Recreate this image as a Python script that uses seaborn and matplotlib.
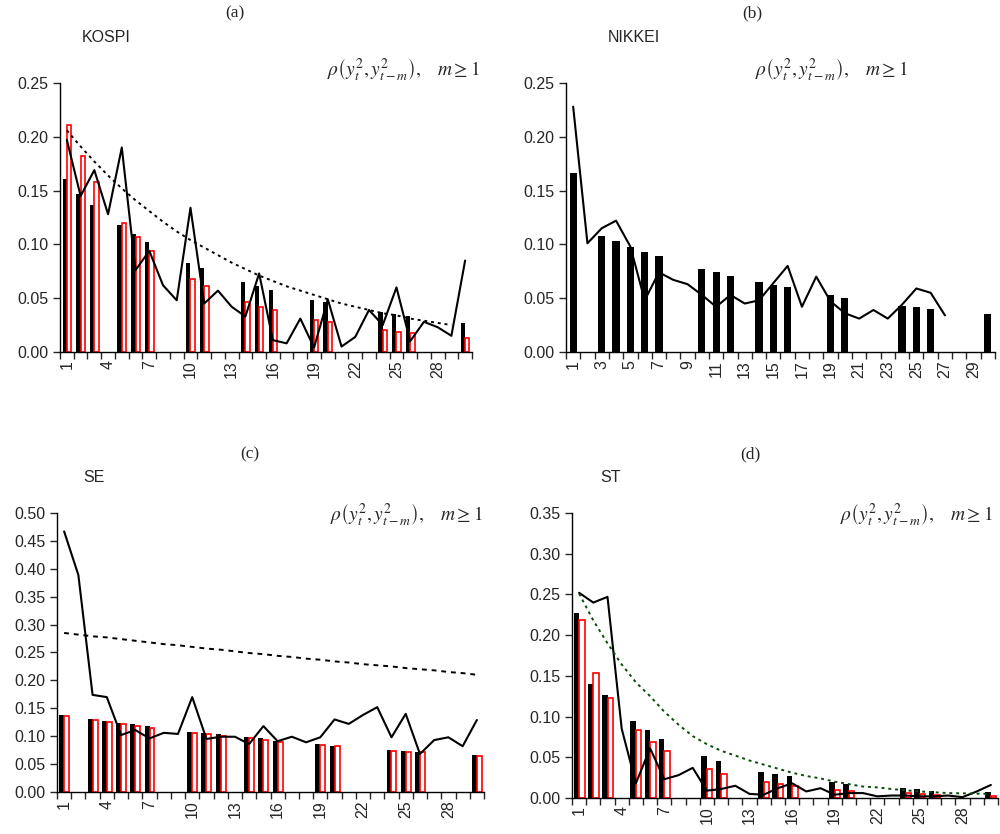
import numpy as np
import pandas as pd
import seaborn as sns
import matplotlib.pyplot as plt

nan = np.nan
lags = list(range(1, 31))

# (a) KOSPI
kospi_black = [0.161, 0.147, 0.137, nan, 0.118, 0.110, 0.102, nan, nan, 0.083,
               0.078, nan, nan, 0.065, 0.061, 0.058, nan, nan, 0.048, 0.046,
               nan, nan, nan, 0.037, 0.035, 0.033, nan, nan, nan, 0.027]
kospi_red = [0.211, 0.182, 0.158, nan, 0.120, 0.107, 0.094, nan, nan, 0.068,
             0.061, nan, nan, 0.046, 0.042, 0.039, nan, nan, 0.030, 0.028,
             nan, nan, nan, 0.020, 0.019, 0.018, nan, nan, nan, 0.013]
kospi_line = [0.197, 0.145, 0.169, 0.128, 0.190, 0.076, 0.094, 0.062, 0.048, 0.134,
              0.045, 0.057, 0.042, 0.033, 0.073, 0.011, 0.008, 0.031, 0.004, 0.049,
              0.005, 0.014, 0.039, 0.025, 0.060, 0.010, 0.028, 0.023, 0.015, 0.085]
kospi_dot = [0.206, 0.191, 0.177, 0.164, 0.152, 0.141, 0.131, 0.121, 0.112, 0.104,
             0.097, 0.090, 0.083, 0.077, 0.071, 0.066, 0.061, 0.057, 0.053, 0.049,
             0.045, 0.042, 0.039, 0.036, 0.034, 0.031, 0.029, 0.027, 0.025]

# (b) NIKKEI
nikkei_black = [0.166, nan, 0.108, 0.103, 0.098, 0.093, 0.089, nan, nan, 0.077,
                0.074, 0.071, nan, 0.065, 0.062, 0.060, nan, nan, 0.053, 0.050,
                nan, nan, nan, 0.043, 0.042, 0.040, nan, nan, nan, 0.035]
nikkei_line = [0.228, 0.101, 0.115, 0.122, 0.098, 0.048, 0.074, 0.067, 0.063, 0.053,
               0.042, 0.053, 0.045, 0.048, 0.064, 0.080, 0.042, 0.070, 0.047, 0.036,
               0.031, 0.039, 0.031, 0.044, 0.059, 0.055, 0.034]

# (c) SE
se_black = [0.138, nan, 0.131, 0.128, 0.123, 0.121, 0.118, nan, nan, 0.108,
            0.105, 0.103, nan, 0.098, 0.096, 0.092, nan, nan, 0.086, 0.083,
            nan, nan, nan, 0.076, 0.074, 0.072, nan, nan, nan, 0.066]
se_red = [0.137, nan, 0.129, 0.125, 0.121, 0.118, 0.115, nan, nan, 0.106,
          0.104, 0.101, nan, 0.096, 0.093, 0.090, nan, nan, 0.084, 0.082,
          nan, nan, nan, 0.074, 0.072, 0.071, nan, nan, nan, 0.064]
se_line = [0.467, 0.389, 0.174, 0.170, 0.102, 0.111, 0.096, 0.106, 0.104, 0.170,
           0.095, 0.099, 0.099, 0.086, 0.118, 0.091, 0.099, 0.089, 0.098, 0.130,
           0.122, 0.138, 0.152, 0.098, 0.140, 0.068, 0.093, 0.098, 0.082, 0.129]
se_dot = [0.285, 0.282, 0.279, 0.277, 0.274, 0.271, 0.268, 0.265, 0.263, 0.260,
          0.257, 0.255, 0.252, 0.249, 0.247, 0.244, 0.242, 0.239, 0.237, 0.234,
          0.232, 0.229, 0.227, 0.225, 0.222, 0.220, 0.218, 0.215, 0.213, 0.210]

# (d) ST
st_black = [0.227, 0.140, 0.127, nan, 0.095, 0.083, 0.073, nan, nan, 0.051,
            0.045, nan, nan, 0.032, 0.030, 0.027, nan, nan, 0.020, 0.017,
            nan, nan, nan, 0.012, 0.011, 0.009, nan, nan, nan, 0.007]
st_red = [0.219, 0.153, 0.123, nan, 0.083, 0.069, 0.058, nan, nan, 0.035,
          0.030, nan, nan, 0.020, 0.017, 0.015, nan, nan, 0.010, 0.009,
          nan, nan, nan, 0.006, 0.005, 0.004, nan, nan, nan, 0.003]
st_line = [0.252, 0.240, 0.247, 0.085, 0.018, 0.061, 0.023, 0.028, 0.037, 0.009,
           0.011, 0.015, 0.005, 0.004, 0.012, 0.018, 0.008, 0.012, 0.004, 0.006,
           0.006, 0.002, 0.003, 0.003, 0.002, 0.002, 0.003, 0.001, 0.008, 0.016]
st_dot = [0.251, 0.218, 0.190, 0.164, 0.142, 0.125, 0.106, 0.090, 0.076, 0.066,
          0.058, 0.052, 0.046, 0.041, 0.036, 0.031, 0.027, 0.024, 0.020, 0.017,
          0.014, 0.013, 0.011, 0.0094, 0.008, 0.007, 0.006, 0.0057, 0.0053, 0.005]

sns.set_style('ticks')
plt.rcParams['font.family'] = ['Liberation Sans', 'DejaVu Sans']
plt.rcParams['mathtext.fontset'] = 'stix'

fig = plt.figure(figsize=(10, 8.34), dpi=100)
formula = r'$\rho\left(y_t^2, y_{t-m}^2\right),\quad m \geq 1$'


def panel(rect, black, red, line, dot, dot_color, dot_ls, ymax, step, width):
    ax = fig.add_axes(rect)
    if red is None:
        df = pd.DataFrame({'lag': lags, 'value': black}).dropna()
        sns.barplot(data=df, x='lag', y='value', order=lags, color='black',
                    saturation=1, width=width, errorbar=None, ax=ax)
        for p in ax.patches:
            p.set_linewidth(0)
    else:
        df = pd.DataFrame({'lag': lags * 2, 'value': black + red,
                           'series': ['b'] * 30 + ['r'] * 30}).dropna()
        sns.barplot(data=df, x='lag', y='value', hue='series', order=lags,
                    hue_order=['b', 'r'], palette={'b': 'black', 'r': 'white'},
                    saturation=1, width=width, gap=0, dodge=True,
                    errorbar=None, legend=False, ax=ax)
        for p in ax.containers[0]:
            p.set_linewidth(0)
        for p in ax.containers[1]:
            p.set_edgecolor('red')
            p.set_linewidth(1.2)
    sns.lineplot(x=np.arange(len(line)), y=line, color='black', lw=1.5, ax=ax)
    if dot is not None:
        sns.lineplot(x=np.arange(len(dot)), y=dot, color=dot_color, lw=1.4,
                     ax=ax).lines[-1].set_linestyle(dot_ls)
    ax.set_xlim(-0.5, 29.5)
    ax.set_ylim(0, ymax)
    ax.set_yticks(np.arange(0, ymax + 0.001, 0.05))
    ax.set_yticklabels(['%.2f' % v for v in np.arange(0, ymax + 0.001, 0.05)])
    ax.set_xticks(np.arange(0, 30, step))
    ax.set_xticklabels([str(l) for l in lags[::step]])
    ax.set_xticks(np.arange(-0.5, 30, 1), minor=True)
    ax.tick_params(axis='x', which='major', length=0, rotation=90, pad=6,
                   labelsize=11.5)
    ax.tick_params(axis='x', which='minor', length=5, width=1, direction='out')
    ax.tick_params(axis='y', length=5, width=1, labelsize=11.5)
    ax.set_xlabel('')
    ax.set_ylabel('')
    sns.despine(ax=ax)
    for s in ['left', 'bottom']:
        ax.spines[s].set_linewidth(1)
        ax.spines[s].set_color('black')
    return ax


panel([0.060, 0.578, 0.412, 0.3225], kospi_black, kospi_red, kospi_line,
      kospi_dot, 'black', (0, (1.5, 2)), 0.25, 3, 0.63)
panel([0.566, 0.578, 0.429, 0.3225], nikkei_black, None, nikkei_line,
      None, 'black', '-', 0.25, 2, 0.5)
panel([0.057, 0.0504, 0.427, 0.3345], se_black, se_red, se_line,
      se_dot, 'black', (0, (2.5, 2.5)), 0.50, 3, 0.7)
panel([0.572, 0.0432, 0.426, 0.3417], st_black, st_red, st_line,
      st_dot, '#0b4a0b', (0, (1.5, 2)), 0.35, 3, 0.78)

tfont = dict(family='Liberation Serif', fontsize=12.5, ha='center', va='center')
fig.text(0.235, 0.984, '(a)', **tfont)
fig.text(0.752, 0.984, '(b)', **tfont)
fig.text(0.25, 0.455, '(c)', **tfont)
fig.text(0.75, 0.455, '(d)', **tfont)

nfont = dict(fontsize=11.5, ha='left', va='center')
fig.text(0.082, 1 - 38 / 834, 'KOSPI', **nfont)
fig.text(0.608, 1 - 38 / 834, 'NIKKEI', **nfont)
fig.text(0.083, 1 - 478 / 834, 'SE', **nfont)
fig.text(0.600, 1 - 478 / 834, 'ST', **nfont)

ffont = dict(fontsize=14, ha='right', va='center')
fig.text(0.480, 1 - 70 / 834, formula, **ffont)
fig.text(0.908, 1 - 70 / 834, formula, **ffont)
fig.text(0.483, 1 - 515 / 834, formula, **ffont)
fig.text(0.993, 1 - 515 / 834, formula, **ffont)

fig.savefig('out.png', dpi=100)
